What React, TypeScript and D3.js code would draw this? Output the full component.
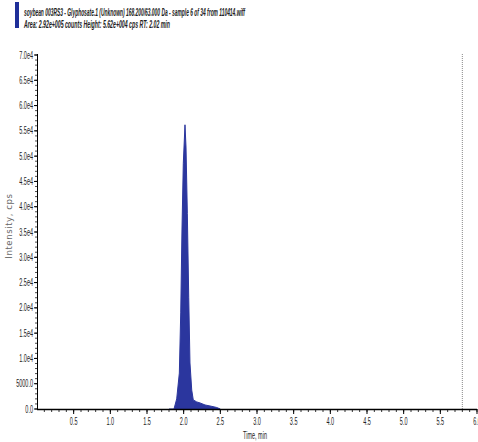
import React, { useEffect, useRef } from "react";
import * as d3 from "d3";

const title1 = "soybean 003RS3 - Glyphosate.1 (Unknown) 168.200/63.000 Da - sample 6 of 34 from 110414.wiff";
const title2 = "Area: 2.92e+005 counts  Height: 5.62e+004 cps  RT: 2.02 min";
const xLabel = "Time, min";
const yLabel = "Intensity, cps";

const times = [1.8, 1.868, 1.905, 1.941, 1.96, 1.977, 1.995, 2.018, 2.032, 2.05, 2.069, 2.086, 2.11, 2.131, 2.178, 2.223, 2.291, 2.359, 2.45, 2.5];
const intensity = [0, 0, 2000, 7100, 19000, 35400, 48600, 56200, 51800, 38700, 22100, 9100, 3750, 1800, 1400, 1200, 800, 600, 300, 0];

const xMajorTicks = [0.5, 1.0, 1.5, 2.0, 2.5, 3.0, 3.5, 4.0, 4.5, 5.0, 5.5, 6.0];
const yMajorTicks = [0, 5000, 10000, 15000, 20000, 25000, 30000, 35000, 40000, 45000, 50000, 55000, 60000, 65000, 70000];
const yTickLabels = ["0.0", "5000.0", "1.0e4", "1.5e4", "2.0e4", "2.5e4", "3.0e4", "3.5e4", "4.0e4", "4.5e4", "5.0e4", "5.5e4", "6.0e4", "6.5e4", "7.0e4"];
const markerTime = [5.8];

const W = 478, H = 442;
const FONT = "'Liberation Sans', Arial, sans-serif";
const SX = 0.55;

export default function App() {
  const ref = useRef<SVGSVGElement>(null);
  useEffect(() => {
    const svg = d3.select(ref.current);
    svg.selectAll("*").remove();
    const x = d3.scaleLinear().domain([0, 6]).range([37, 477]);
    const y = d3.scaleLinear().domain([0, 70000]).range([409, 55]);

    // header
    svg.append("rect").attr("x", 15).attr("y", 2).attr("width", 4).attr("height", 26).attr("fill", "#1f2f99");
    svg.append("text").attr("x", 24).attr("y", 16).text(title1)
      .attr("font-family", FONT).attr("font-size", 10).attr("font-weight", "bold").attr("font-style", "italic")
      .attr("textLength", 221).attr("lengthAdjust", "spacingAndGlyphs").attr("fill", "#222");
    svg.append("text").attr("x", 24).attr("y", 28).text(title2)
      .attr("font-family", FONT).attr("font-size", 10).attr("font-weight", "bold").attr("font-style", "italic")
      .attr("textLength", 146).attr("lengthAdjust", "spacingAndGlyphs").attr("fill", "#222");

    // marker line
    svg.selectAll(".marker").data(markerTime).enter().append("line")
      .attr("x1", d => x(d)).attr("x2", d => x(d)).attr("y1", 54).attr("y2", 409)
      .attr("stroke", "#888").attr("stroke-width", 1).attr("stroke-dasharray", "1,1");

    const pts = times.map((t, i) => [t, intensity[i]] as [number, number]);
    const area = d3.area<[number, number]>().x(d => x(d[0])).y0(y(0)).y1(d => y(d[1]));
    const line = d3.line<[number, number]>().x(d => x(d[0])).y(d => y(d[1]));
    svg.append("path").attr("d", area(pts)!).attr("fill", "#2b369e");
    svg.append("path").attr("d", line(pts)!).attr("fill", "none").attr("stroke", "#2b369e").attr("stroke-width", 1);

    // axes
    const g = svg.append("g");
    g.append("line").attr("x1", 37).attr("x2", 477).attr("y1", 409.5).attr("y2", 409.5).attr("stroke", "#000").attr("stroke-width", 1.5);
    g.append("line").attr("x1", 37.5).attr("x2", 37.5).attr("y1", 54).attr("y2", 409).attr("stroke", "#000").attr("stroke-width", 1);
    const xMinor = d3.range(1, 61).map(i => i / 10);
    g.selectAll(".xminor").data(xMinor).enter().append("line")
      .attr("x1", d => x(d)).attr("x2", d => x(d)).attr("y1", 409).attr("y2", 412).attr("stroke", "#000").attr("stroke-width", 0.8);
    g.selectAll(".xmajor").data(xMajorTicks).enter().append("line")
      .attr("x1", d => x(d)).attr("x2", d => x(d)).attr("y1", 409).attr("y2", 414).attr("stroke", "#000").attr("stroke-width", 1);
    g.selectAll(".xlab").data(xMajorTicks).enter().append("text")
      .attr("transform", d => `translate(${x(d)},424.5) scale(${SX},1)`).attr("text-anchor", "middle")
      .attr("font-family", FONT).attr("font-size", 10).attr("fill", "#222")
      .text(d => d.toFixed(1));
    const yMinor = d3.range(0, 71).map(i => i * 1000);
    g.selectAll(".yminor").data(yMinor).enter().append("line")
      .attr("x1", 35).attr("x2", 37).attr("y1", d => y(d)).attr("y2", d => y(d)).attr("stroke", "#000").attr("stroke-width", 0.7);
    g.selectAll(".ymajor").data(yMajorTicks).enter().append("line")
      .attr("x1", 34).attr("x2", 37).attr("y1", d => y(d)).attr("y2", d => y(d)).attr("stroke", "#000").attr("stroke-width", 1);
    g.selectAll(".ylab").data(yMajorTicks).enter().append("text")
      .attr("transform", d => `translate(33,${y(d) + 3.5}) scale(${SX},1)`).attr("text-anchor", "end")
      .attr("font-family", FONT).attr("font-size", 10).attr("fill", "#222")
      .text((d, i) => yTickLabels[i]);

    svg.append("text").attr("transform", `translate(255,439) scale(${SX},1)`).attr("text-anchor", "middle")
      .attr("font-family", FONT).attr("font-size", 10).attr("fill", "#222").text(xLabel);
    svg.append("text").attr("transform", "translate(12,226) rotate(-90)").attr("text-anchor", "middle")
      .attr("font-family", "'DejaVu Sans', sans-serif").attr("font-size", 8.5).attr("letter-spacing", 0.6)
      .attr("fill", "#666").text(yLabel);
  }, []);
  return (
    <svg ref={ref} width={W} height={H} style={{ position: "absolute", left: 0, top: 0, background: "#fff" }} />
  );
}
